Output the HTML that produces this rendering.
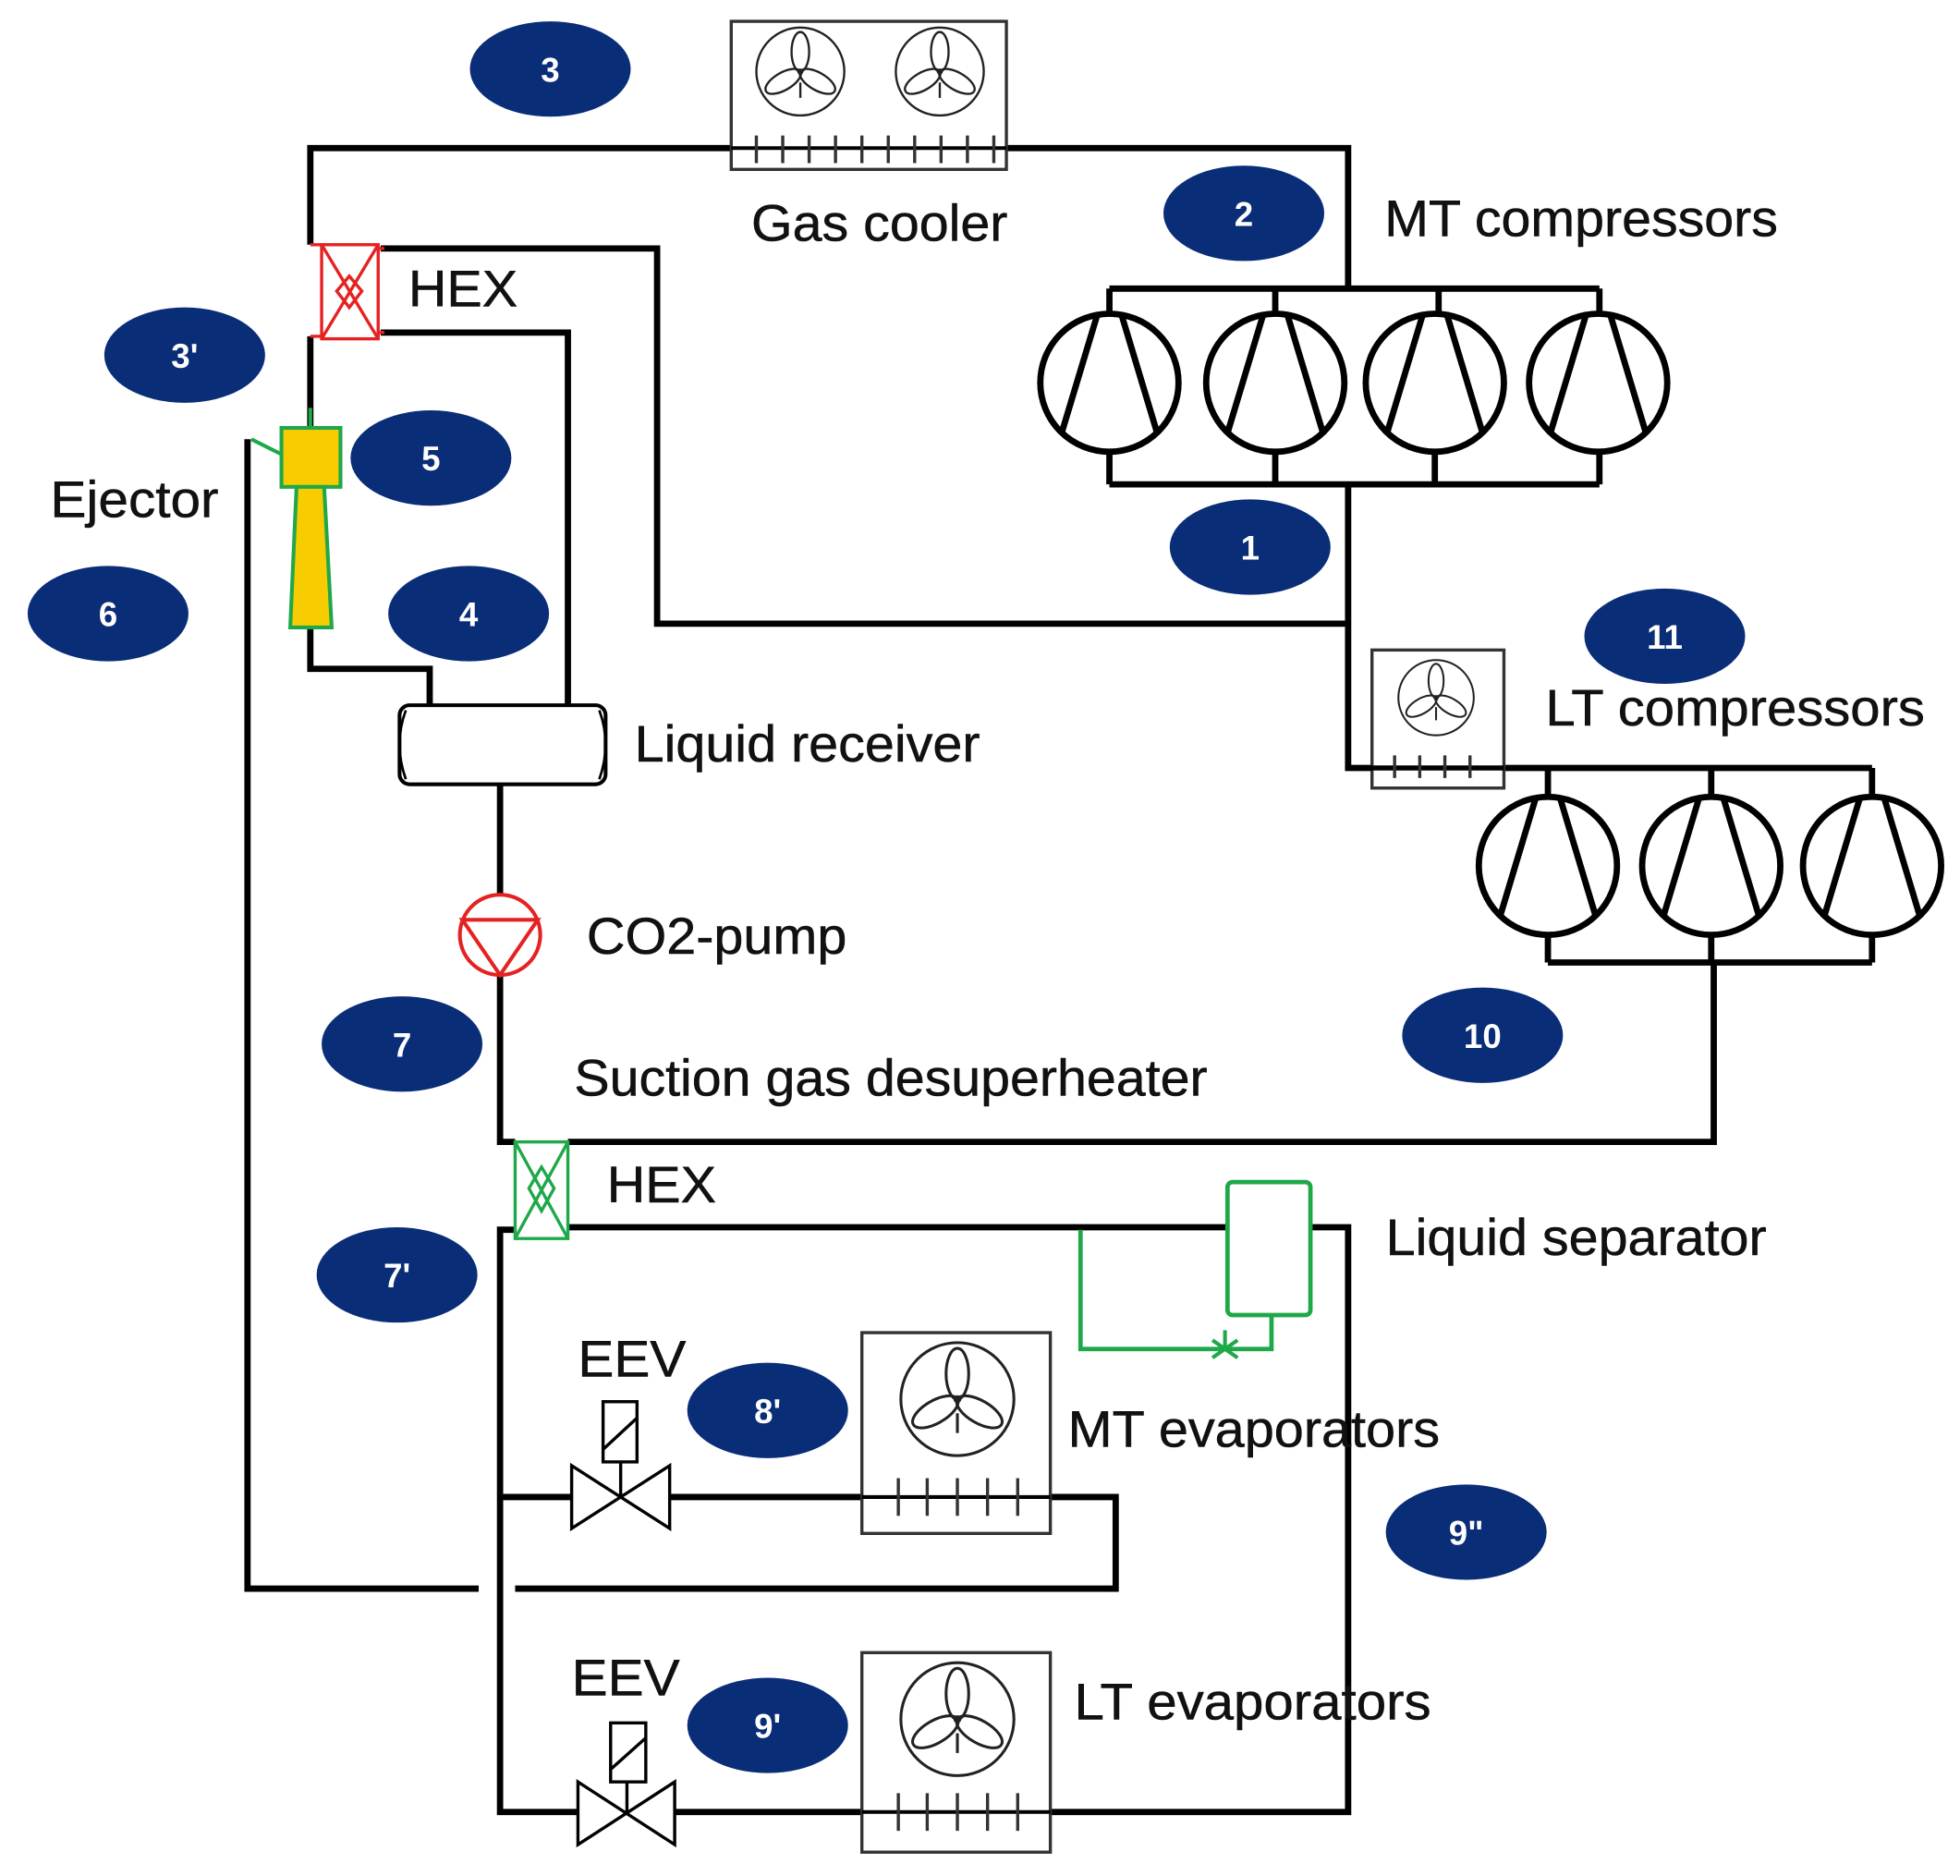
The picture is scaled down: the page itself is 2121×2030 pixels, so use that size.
<!DOCTYPE html>
<html><head><meta charset="utf-8"><style>
html,body{margin:0;padding:0;background:#fff;}
svg{display:block;}
text{font-family:"Liberation Sans",sans-serif;}
.l{font-size:41px;fill:#111;stroke:#111;stroke-width:0.4;}
.n{font-size:27px;fill:#fff;font-weight:bold;text-anchor:middle;}
</style></head><body>
<svg width="2121" height="2030" viewBox="0 0 1560 1495" preserveAspectRatio="none" xmlns="http://www.w3.org/2000/svg">
<defs>
<g id="fan">
<circle r="1" fill="none" stroke="#222" stroke-width="0.05"/>
<g fill="none" stroke="#222" stroke-width="0.05">
<ellipse cx="0" cy="-0.45" rx="0.2" ry="0.45"/>
<ellipse cx="0" cy="-0.45" rx="0.2" ry="0.45" transform="rotate(120)"/>
<ellipse cx="0" cy="-0.45" rx="0.2" ry="0.45" transform="rotate(240)"/>
<path d="M0,0.25 V0.6"/>
</g>
<circle r="0.07" fill="#222"/>
</g>
<g id="comp">
<circle r="55" fill="#fff" stroke="#000" stroke-width="5"/>
<path d="M-10,-53 L-38,40 M10,-53 L38,40" stroke="#000" stroke-width="5" fill="none"/>
</g>
</defs>

<g fill="none" stroke="#000" stroke-width="5">
<path d="M247,195 V118 H1073 V230"/>
<path d="M303,198 H523 V497 H1073"/>
<path d="M1073,386 V612 H1490"/>
<path d="M883,230 H1273 M883,230 V250 M1015,230 V250 M1145,230 V250 M1273,230 V250"/>
<path d="M883,386 H1273 M883,386 V360 M1015,386 V360 M1142,386 V360 M1273,386 V360"/>
<path d="M247,268 V340"/>
<path d="M303,265 H452 V562"/>
<path d="M247,500 V533 H342 V562"/>
<path d="M197,350 V1266 H381"/>
<path d="M410,1266 H888 V1193 H836"/>
<path d="M398,625 V712 M398,778 V910 H410"/>
<path d="M452,910 H1364 V767"/>
<path d="M1232,612 V635 M1362,612 V635 M1490,612 V635"/>
<path d="M1232,767 H1490 M1232,767 V745 M1362,767 V745 M1490,767 V745"/>
<path d="M452,978 H977 M1043,978 H1073 V1444 H836"/>
<path d="M410,980 H398 V1444 H460 M398,1193 H455"/>
<path d="M533,1193 H686 M537,1444 H686"/>
</g>

<use href="#comp" x="883" y="305"/><use href="#comp" x="1015" y="305"/><use href="#comp" x="1142" y="305"/><use href="#comp" x="1272" y="305"/>
<use href="#comp" x="1232" y="690"/><use href="#comp" x="1362" y="690"/><use href="#comp" x="1490" y="690"/>

<rect x="582" y="17" width="219" height="118" fill="#fff" stroke="#333" stroke-width="2.5"/>
<path d="M582,118 H801" stroke="#000" stroke-width="3"/>
<g stroke="#333" stroke-width="2.5"><path d="M602,108V130M623,108V130M644,108V130M665,108V130M686,108V130M707,108V130M728,108V130M749,108V130M770,108V130M791,108V130"/></g>
<use href="#fan" transform="translate(637,57) scale(35)"/>
<use href="#fan" transform="translate(748,57) scale(35)"/>

<rect x="1092" y="518" width="105" height="110" fill="#fff" stroke="#333" stroke-width="2.5"/>
<path d="M1073,612 H1197" stroke="#000" stroke-width="4"/>
<g stroke="#333" stroke-width="2.5"><path d="M1110,602V620M1130,602V620M1150,602V620M1170,602V620"/></g>
<use href="#fan" transform="translate(1143,556) scale(30)"/>

<g fill="none" stroke="#e52222" stroke-width="2.5">
<rect x="256" y="195" width="45" height="75"/>
<path d="M256,195 L301,270 M301,195 L256,270 M278,220 L268,232 L278,245 L288,232 Z"/>
<path d="M247,195 H256 M247,268 H256 M301,198 H306 M301,265 H306"/>
</g>

<path d="M200,350 L224,362" stroke="#1fa84a" stroke-width="3"/>
<path d="M247,325 V341" stroke="#1fa84a" stroke-width="3"/>
<rect x="224" y="341" width="47" height="47" fill="#f7cc00" stroke="#1fa84a" stroke-width="3"/>
<path d="M236,388 H258 L264,500 H231 Z" fill="#f7cc00" stroke="#1fa84a" stroke-width="3"/>

<rect x="318" y="562" width="164" height="63" rx="8" fill="#fff" stroke="#000" stroke-width="3"/>
<path d="M323,566 Q313,593 323,621 M477,566 Q487,593 477,621" fill="none" stroke="#000" stroke-width="2"/>

<circle cx="398" cy="745" r="32" fill="#fff" stroke="#e52222" stroke-width="3"/>
<path d="M368,733 H428 L398,777 Z" fill="none" stroke="#e52222" stroke-width="3"/>

<g fill="none" stroke="#1fa84a" stroke-width="2.5">
<rect x="410" y="910" width="42" height="77"/>
<path d="M410,910 L452,987 M452,910 L410,987 M431,930 L421,947 L431,965 L441,947 Z"/>
</g>

<rect x="977" y="942" width="66" height="106" rx="4" fill="#fff" stroke="#1fa84a" stroke-width="3.5"/>
<path d="M860,980 V1075 H1012 V1048" fill="none" stroke="#1fa84a" stroke-width="3.5"/>
<path d="M965,1068 L985,1082 M965,1082 L985,1068 M975,1060 V1075" stroke="#1fa84a" stroke-width="3"/>

<g fill="#fff" stroke="#000" stroke-width="2.5">
<path d="M455,1168 L533,1218 V1168 L455,1218 Z"/>
<rect x="480" y="1117" width="27" height="48"/>
<path d="M494,1165 V1193 M480,1155 L507,1130" fill="none"/>
<path d="M460,1420 L537,1470 V1420 L460,1470 Z"/>
<rect x="486" y="1373" width="28" height="47"/>
<path d="M499,1420 V1444 M486,1410 L514,1385" fill="none"/>
</g>

<g fill="#fff" stroke="#333" stroke-width="2.5">
<rect x="686" y="1062" width="150" height="160"/>
<rect x="686" y="1317" width="150" height="159"/>
</g>
<path d="M686,1193 H836 M686,1444 H836" stroke="#000" stroke-width="3"/>
<g stroke="#333" stroke-width="2.5"><path d="M715,1178V1208M738,1178V1208M762,1178V1208M786,1178V1208M810,1178V1208M715,1429V1459M738,1429V1459M762,1429V1459M786,1429V1459M810,1429V1459"/></g>
<use href="#fan" transform="translate(762,1115) scale(45)"/>
<use href="#fan" transform="translate(762,1370) scale(45)"/>

<text class="l" x="598" y="192" textLength="204" lengthAdjust="spacingAndGlyphs">Gas cooler</text>
<text class="l" x="1102" y="188" textLength="313" lengthAdjust="spacingAndGlyphs">MT compressors</text>
<text class="l" x="325" y="244" textLength="87" lengthAdjust="spacingAndGlyphs">HEX</text>
<text class="l" x="40" y="412" textLength="134" lengthAdjust="spacingAndGlyphs">Ejector</text>
<text class="l" x="505" y="607" textLength="275" lengthAdjust="spacingAndGlyphs">Liquid receiver</text>
<text class="l" x="1230" y="578" textLength="302" lengthAdjust="spacingAndGlyphs">LT compressors</text>
<text class="l" x="467" y="760" textLength="207" lengthAdjust="spacingAndGlyphs">CO2-pump</text>
<text class="l" x="457" y="873" textLength="504" lengthAdjust="spacingAndGlyphs">Suction gas desuperheater</text>
<text class="l" x="483" y="958" textLength="87" lengthAdjust="spacingAndGlyphs">HEX</text>
<text class="l" x="1103" y="1000" textLength="303" lengthAdjust="spacingAndGlyphs">Liquid separator</text>
<text class="l" x="460" y="1097" textLength="86" lengthAdjust="spacingAndGlyphs">EEV</text>
<text class="l" x="850" y="1153" textLength="296" lengthAdjust="spacingAndGlyphs">MT evaporators</text>
<text class="l" x="455" y="1351" textLength="86" lengthAdjust="spacingAndGlyphs">EEV</text>
<text class="l" x="855" y="1370" textLength="284" lengthAdjust="spacingAndGlyphs">LT evaporators</text>

<g fill="#0a2d78">
<ellipse cx="438" cy="55" rx="64" ry="38"/><ellipse cx="990" cy="170" rx="64" ry="38"/>
<ellipse cx="147" cy="283" rx="64" ry="38"/><ellipse cx="343" cy="365" rx="64" ry="38"/>
<ellipse cx="86" cy="489" rx="64" ry="38"/><ellipse cx="373" cy="489" rx="64" ry="38"/>
<ellipse cx="995" cy="436" rx="64" ry="38"/><ellipse cx="1325" cy="507" rx="64" ry="38"/>
<ellipse cx="320" cy="832" rx="64" ry="38"/><ellipse cx="1180" cy="825" rx="64" ry="38"/>
<ellipse cx="316" cy="1016" rx="64" ry="38"/><ellipse cx="611" cy="1124" rx="64" ry="38"/>
<ellipse cx="1167" cy="1221" rx="64" ry="38"/><ellipse cx="611" cy="1375" rx="64" ry="38"/>
</g>
<text class="n" x="438" y="65">3</text><text class="n" x="990" y="180">2</text>
<text class="n" x="147" y="293">3'</text><text class="n" x="343" y="375">5</text>
<text class="n" x="86" y="499">6</text><text class="n" x="373" y="499">4</text>
<text class="n" x="995" y="446">1</text><text class="n" x="1325" y="517">11</text>
<text class="n" x="320" y="842">7</text><text class="n" x="1180" y="835">10</text>
<text class="n" x="316" y="1026">7'</text><text class="n" x="611" y="1134">8'</text>
<text class="n" x="1167" y="1231">9"</text><text class="n" x="611" y="1385">9'</text>
</svg>
</body></html>
